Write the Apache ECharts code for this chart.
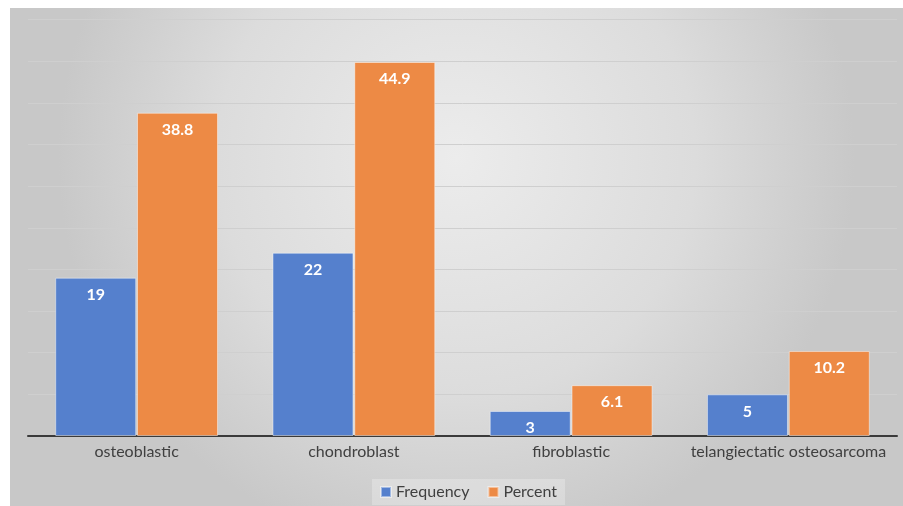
<!DOCTYPE html>
<html>
<head>
<meta charset="utf-8">
<script src="https://cdn.jsdelivr.net/npm/echarts@6/dist/echarts.min.js"></script>
<style>
  html, body { margin: 0; padding: 0; background: #ffffff; }
  #chart { position: absolute; left: 10px; top: 8px; width: 893px; height: 498px; }
</style>
</head>
<body>
<div id="chart"></div>
<script>
// Osteosarcoma subtypes: case counts and share of total
const categories = ['osteoblastic', 'chondroblast', 'fibroblastic', 'telangiectatic osteosarcoma'];
const frequency = [19, 22, 3, 5];
const percent = [38.8, 44.9, 6.1, 10.2];
const seriesNames = ['Frequency', 'Percent'];

const chart = echarts.init(document.getElementById('chart'));

const labelStyle = {
  show: true,
  position: 'insideTop',
  distance: 9,
  color: '#ffffff',
  fontFamily: 'Lato',
  fontWeight: 'bold',
  fontSize: 16
};

chart.setOption({
  backgroundColor: {
    type: 'radial', x: 0.5, y: 0.3, r: 0.8,
    colorStops: [
      { offset: 0, color: '#ececec' },
      { offset: 0.6, color: '#dcdcdc' },
      { offset: 1, color: '#c8c8c8' }
    ]
  },
  animation: false,
  textStyle: { fontFamily: 'Lato' },
  grid: { left: 18, right: 6, top: 11.5, bottom: 70, containLabel: false },
  legend: {
    data: seriesNames,
    bottom: 1,
    left: 362,
    itemWidth: 10,
    itemHeight: 10,
    itemGap: 18,
    padding: [5, 8],
    backgroundColor: 'rgba(255,255,255,0.25)',
    textStyle: { color: '#404040', fontSize: 16, fontFamily: 'Lato' },
    icon: 'rect'
  },
  xAxis: {
    type: 'category',
    data: categories,
    axisLine: { lineStyle: { color: '#3a3a3a', width: 2 } },
    axisTick: { show: false },
    axisLabel: { color: '#404040', fontSize: 16, fontFamily: 'Lato', margin: 8, interval: 0 }
  },
  yAxis: {
    type: 'value',
    min: 0, max: 50, interval: 5,
    axisLabel: { show: false },
    axisLine: { show: false },
    axisTick: { show: false },
    splitLine: { lineStyle: { color: '#cfcfcf', width: 1 } }
  },
  series: [
    {
      name: seriesNames[0], type: 'bar', data: frequency,
      barWidth: 81, barGap: '1%',
      itemStyle: { color: '#5580cd', borderColor: 'rgba(255,255,255,0.45)', borderWidth: 1 },
      label: labelStyle
    },
    {
      name: seriesNames[1], type: 'bar', data: percent,
      barWidth: 81,
      itemStyle: { color: '#ed8a45', borderColor: 'rgba(255,255,255,0.45)', borderWidth: 1 },
      label: labelStyle
    }
  ]
});
</script>
</body>
</html>
